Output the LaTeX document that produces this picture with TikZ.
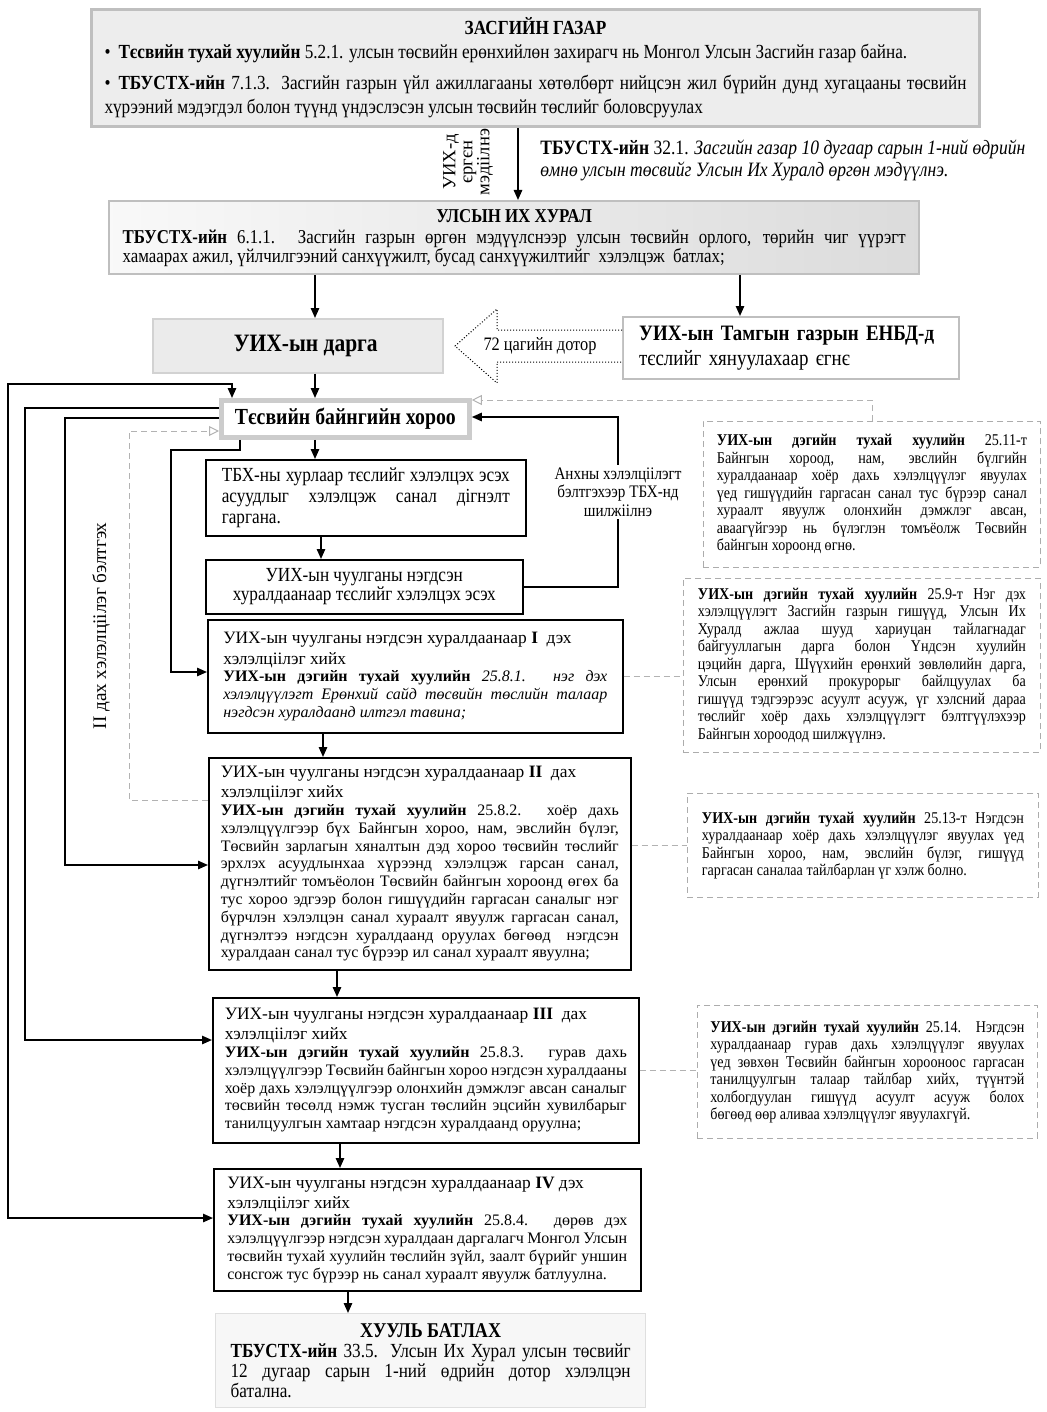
\documentclass[tikz,border=0pt]{standalone}
\usepackage{fontspec}
\setmainfont{Liberation Serif}
\newfontfamily\cond[FakeStretch=0.86]{Liberation Serif}
\usetikzlibrary{arrows.meta,shadings}

\newcommand{\bul}{\makebox[7pt][l]{\textbullet}}

\begin{document}
\begin{tikzpicture}[x=0.5pt, y=-0.5pt,
  box/.style ={draw, line width=0.8pt, anchor=north west, inner ysep=2pt, inner xsep=0pt},
  note/.style ={draw=gray!65, densely dashed, line width=0.4pt, anchor=north west,
    inner ysep=2pt, inner xsep=0pt, align=justify, font=\cond\fontsize{8.2}{8.75}\selectfont},
  arr/.style ={-{Triangle[length=5pt,width=4.2pt]}, line width=0.8pt},
  arrtwo/.style ={{Triangle[length=5pt,width=4.2pt]}-{Triangle[length=5pt,width=4.2pt]}, line width=0.8pt},
  gline/.style ={gray!60, densely dashed, line width=0.5pt},
  garr/.style ={gline, -{Triangle[open,length=5pt,width=5pt]}}]
\useasboundingbox (0,0) rectangle (1046,1412);

% upper part
\node[box, draw=gray!50, line width=1.5pt, fill=gray!14, minimum width=444pt, minimum height=58.5pt,
  text width=431pt, align=justify, font=\cond\fontsize{10}{12}\selectfont] (gov) at (90,8) {%
  \makebox[\linewidth]{\bfseries ЗАСГИЙН ГАЗАР}\par
  \hangindent=7pt\hangafter=1\bul\textbf{Тєсвийн тухай хуулийн} 5.2.1. улсын төсвийн ерөнхийлөн захирагч нь Монгол Улсын Засгийн газар байна.\par\vspace{3.5pt}
  \hangindent=7pt\hangafter=1\bul\textbf{ТБУСТХ-ийн} 7.1.3. Засгийн газрын үйл ажиллагааны хөтөлбөрт нийцсэн жил бүрийн дунд хугацааны төсвийн\linebreak хүрээний мэдэгдэл болон түүнд үндэслэсэн улсын төсвийн төслийг боловсруулах};
\node[rotate=90, align=center, inner sep=0pt, font=\fontsize{9.3}{8.5}\selectfont] (sub) at (468,162) {УИХ-д\\єргєн\\мэдіілнэ};
\node[anchor=north west, align=left, inner sep=0pt, font=\cond\fontsize{10.2}{11}\selectfont] (art) at (540,140)
  {\textbf{ТБУСТХ-ийн} 32.1. \textit{Засгийн газар 10 дугаар сарын 1-ний өдрийн}\\
   \textit{өмнө улсын төсвийг Улсын Их Хуралд өргөн мэдүүлнэ.}};
\node[box, draw=gray!50, line width=1.2pt, left color=gray!5, right color=gray!28, minimum width=405pt,
  minimum height=36.5pt, text width=391.5pt, align=justify, font=\cond\fontsize{9.8}{9.5}\selectfont] (parl) at (108,200) {%
  \makebox[\linewidth]{\bfseries УЛСЫН ИХ ХУРАЛ}\par\vspace{1pt}
  \textbf{ТБУСТХ-ийн} 6.1.1. Засгийн газрын өргөн мэдүүлснээр улсын төсвийн орлого, төрийн чиг үүрэгт\linebreak
  хамаарах ажил, үйлчилгээний санхүүжилт, бусад санхүүжилтийг\ \ хэлэлцэж\ \ батлах;};
\node[box, draw=gray!35, fill=gray!16, minimum width=145pt, minimum height=27pt,
  font=\cond\bfseries\fontsize{12.5}{14}\selectfont] (chair) at (152,318) {\hspace{8pt}УИХ-ын дарга};
\node[box, draw=gray!50, line width=1.2pt, fill=white, minimum width=168pt, minimum height=31pt,
  text width=152pt, align=left, font=\cond\fontsize{11}{12.5}\selectfont] (secr) at (622,316)
  {\textbf{УИХ-ын Тамгын газрын ЕНБД-д}\\тєслийг хянуулахаар єгнє};
% hollow arrow from the secretariat to the chairman
\coordinate (hold) at (455,346);
\draw[densely dotted, line width=0.5pt, fill=white] (secr.west |- 0,330) -- (497,330) -- (497,309) -- (hold)
  -- (497,383) -- (497,362) -- (secr.west |- 0,362);
\node[font=\cond\fontsize{9.5}{10}\selectfont] (hrs) at (540,346) {72 цагийн дотор};

% committee stage
\node[box, draw=gray!40, line width=2.4pt, fill=white, minimum width=124pt, minimum height=18.5pt,
  font=\cond\bfseries\fontsize{11.5}{13}\selectfont] (bcom) at (219,398) {Тєсвийн байнгийн хороо};
\node[box, minimum width=160pt, minimum height=38pt, text width=144pt, align=justify,
  font=\cond\fontsize{10}{10.5}\selectfont] (tbx) at (205,459)
  {ТБХ-ны хурлаар тєслийг хэлэлцэх эсэх\linebreak асуудлыг хэлэлцэж санал дігнэлт\linebreak гаргана.};
\node[box, minimum width=158.5pt, minimum height=27pt, align=center,
  font=\cond\fontsize{10}{9.5}\selectfont] (plen0) at (205,559)
  {УИХ-ын чуулганы нэгдсэн\\хуралдаанаар тєслийг хэлэлцэх эсэх};

% plenary sessions
\node[box, minimum width=207.5pt, minimum height=56.5pt, text width=192pt, align=justify,
  font=\fontsize{8}{8.9}\selectfont] (plen1) at (207,619) {%
  {\fontsize{8.7}{10.5}\selectfont УИХ-ын чуулганы нэгдсэн хуралдаанаар \textbf{I}\ \ дэх\\хэлэлціілэг хийх\par}
  \textbf{УИХ-ын дэгийн тухай хуулийн} \textit{25.8.1. нэг дэх\linebreak
  хэлэлцүүлэгт Ерөнхий сайд төсвийн төслийн талаар\linebreak
  нэгдсэн хуралдаанд илтгэл тавина;}};
\node[box, minimum width=211pt, minimum height=106pt, text width=199pt, align=justify,
  font=\fontsize{8}{8.9}\selectfont] (plen2) at (208,757) {%
  {\fontsize{8.7}{10}\selectfont УИХ-ын чуулганы нэгдсэн хуралдаанаар \textbf{II}\ \ дах\\хэлэлціілэг хийх\par}
  \textbf{УИХ-ын дэгийн тухай хуулийн} 25.8.2. хоёр дахь\linebreak
  хэлэлцүүлгээр бүх Байнгын хороо, нам, эвслийн бүлэг,\linebreak
  Төсвийн зарлагын хяналтын дэд хороо төсвийн төслийг\linebreak
  эрхлэх асуудлынхаа хүрээнд хэлэлцэж гарсан санал,\linebreak
  дүгнэлтийг томъёолон Төсвийн байнгын хороонд өгөх ба\linebreak
  тус хороо эдгээр болон гишүүдийн гаргасан саналыг нэг\linebreak
  бүрчлэн хэлэлцэн санал хураалт явуулж гаргасан санал,\linebreak
  дүгнэлтээ нэгдсэн хуралдаанд оруулах бөгөөд\ \ нэгдсэн\linebreak
  хуралдаан санал тус бүрээр ил санал хураалт явуулна;};
\node[box, minimum width=213pt, minimum height=72.5pt, text width=201pt, align=justify,
  font=\fontsize{8}{8.9}\selectfont] (plen3) at (212,997) {%
  {\fontsize{8.7}{10}\selectfont УИХ-ын чуулганы нэгдсэн хуралдаанаар \textbf{III}\ \ дах\\хэлэлціілэг хийх\par}
  \textbf{УИХ-ын дэгийн тухай хуулийн} 25.8.3. гурав дахь\linebreak
  хэлэлцүүлгээр Төсвийн байнгын хороо нэгдсэн хуралдааны\linebreak
  хоёр дахь хэлэлцүүлгээр олонхийн дэмжлэг авсан саналыг\linebreak
  төсвийн төсөлд нэмж тусган төслийн эцсийн хувилбарыг\linebreak
  танилцуулгын хамтаар нэгдсэн хуралдаанд оруулна;};
\node[box, minimum width=213.5pt, minimum height=61pt, text width=200pt, align=justify,
  font=\fontsize{8}{8.9}\selectfont] (plen4) at (213,1168) {%
  {\fontsize{8.7}{10}\selectfont УИХ-ын чуулганы нэгдсэн хуралдаанаар \textbf{IV} дэх\\хэлэлціілэг хийх\par}
  \textbf{УИХ-ын дэгийн тухай хуулийн} 25.8.4. дөрөв дэх\linebreak
  хэлэлцүүлгээр нэгдсэн хуралдаан даргалагч Монгол Улсын\linebreak
  төсвийн тухай хуулийн төслийн зүйл, заалт бүрийг уншин\linebreak
  сонсгож тус бүрээр нь санал хураалт явуулж батлуулна.};
\node[box, draw=gray!25, line width=0.6pt, fill=gray!6, minimum width=215pt, minimum height=47pt,
  text width=200pt, align=justify, font=\cond\fontsize{10}{10}\selectfont] (law) at (215,1313) {%
  \makebox[\linewidth]{\fontsize{10.5}{12}\selectfont\bfseries ХУУЛЬ БАТЛАХ}\par
  \textbf{ТБУСТХ-ийн} 33.5. Улсын Их Хурал улсын төсвийг\linebreak
  12 дугаар сарын 1-ний өдрийн дотор хэлэлцэн\linebreak батална.};

% notes
\node[note, minimum width=168.5pt, minimum height=73pt, text width=155pt] (note1) at (703,421) {%
  \textbf{УИХ-ын дэгийн тухай хуулийн} 25.11-т\linebreak
  Байнгын хороод, нам, эвслийн бүлгийн\linebreak
  хуралдаанаар хоёр дахь хэлэлцүүлэг явуулах\linebreak
  үед гишүүдийн гаргасан санал тус бүрээр санал\linebreak
  хураалт явуулж олонхийн дэмжлэг авсан,\linebreak
  аваагүйгээр нь бүлэглэн томъёолж Төсвийн\linebreak
  байнгын хороонд өгнө.};
\node[note, minimum width=178.5pt, minimum height=87pt, text width=164pt] (note2) at (683,578) {%
  \textbf{УИХ-ын дэгийн тухай хуулийн} 25.9-т Нэг дэх\linebreak
  хэлэлцүүлэгт Засгийн газрын гишүүд, Улсын Их\linebreak
  Хуралд ажлаа шууд хариуцан тайлагнадаг\linebreak
  байгууллагын дарга болон Үндсэн хуулийн\linebreak
  цэцийн дарга, Шүүхийн ерөнхий зөвлөлийн дарга,\linebreak
  Улсын ерөнхий прокурорыг байлцуулах ба\linebreak
  гишүүд тэдгээрээс асуулт асууж, үг хэлсний дараа\linebreak
  төслийг хоёр дахь хэлэлцүүлэгт бэлтгүүлэхээр\linebreak
  Байнгын хороодод шилжүүлнэ.};
\node[note, minimum width=175.5pt, minimum height=52pt, text width=161pt] (note3) at (687,793) {%
  \textbf{УИХ-ын дэгийн тухай хуулийн} 25.13-т Нэгдсэн\linebreak
  хуралдаанаар хоёр дахь хэлэлцүүлэг явуулах үед\linebreak
  Байнгын хороо, нам, эвслийн бүлэг, гишүүд\linebreak
  гаргасан саналаа тайлбарлан үг хэлж болно.};
\node[note, minimum width=170pt, minimum height=66.5pt, text width=157pt] (note4) at (697,1005) {%
  \textbf{УИХ-ын дэгийн тухай хуулийн} 25.14. Нэгдсэн\linebreak
  хуралдаанаар гурав дахь хэлэлцүүлэг явуулах\linebreak
  үед зөвхөн Төсвийн байнгын хорооноос гаргасан\linebreak
  танилцуулгын талаар тайлбар хийх, түүнтэй\linebreak
  холбогдуулан гишүүд асуулт асууж болох\linebreak
  бөгөөд өөр аливаа хэлэлцүүлэг явуулахгүй.};

% arrows down the middle
\coordinate (xa) at (518,0);
\coordinate (xb) at (315,0);
\coordinate (xc) at (740,0);
\coordinate (xd) at (321,0);
\coordinate (xe) at (323,0);
\coordinate (xf) at (337,0);
\coordinate (xg) at (340,0);
\coordinate (xh) at (348,0);
\draw[arr] (gov.south -| xa) -- (parl.north -| xa);
\draw[arr] (parl.south -| xb) -- (chair.north -| xb);
\draw[arr] (parl.south -| xc) -- (secr.north -| xc);
\draw[arr] (chair.south -| xb) -- (bcom.north -| xb);
\draw[arr] (bcom.south -| xb) -- (tbx.north -| xb);
\draw[arr] (tbx.south -| xd) -- (plen0.north -| xd);
\draw[arr] (plen1.south -| xe) -- (plen2.north -| xe);
\draw[arr] (plen2.south -| xf) -- (plen3.north -| xf);
\draw[arr] (plen3.south -| xg) -- (plen4.north -| xg);
\draw[arr] (plen4.south -| xh) -- (law.north -| xh);

% loops on the left
\coordinate (A1) at (232,384);
\coordinate (A2) at (8,384);
\coordinate (A3) at (8,1218);
\draw[arrtwo] (bcom.north -| A1) -- (A1) -- (A2) -- (A3) -- (A3 -| plen4.west);
\coordinate (B1) at (25,408);
\coordinate (B2) at (25,1040);
\draw[arr] (B1 -| bcom.west) -- (B1) -- (B2) -- (B2 -| plen3.west);
\coordinate (C1) at (65,418);
\coordinate (C2) at (65,865);
\draw[arr] (C1 -| bcom.west) -- (C1) -- (C2) -- (C2 -| plen2.west);
\coordinate (D1) at (240,450);
\coordinate (D2) at (171,450);
\coordinate (D3) at (171,672);
\draw[arr] (bcom.south -| D1) -- (D1) -- (D2) -- (D3) -- (D3 -| plen1.west);
\node[rotate=90, font=\fontsize{9.6}{10}\selectfont] (prep) at (101,626) {II дах хэлэлціілэг бэлтгэх};

% back to the committee
\coordinate (E2) at (618,417);
\draw[arr] (plen0.east) -| (E2) -- (E2 -| bcom.east);
\node[fill=white, align=center, inner sep=1pt, font=\cond\fontsize{8.8}{9.3}\selectfont] (back) at (618,492)
  {Анхны хэлэлціілэгт\\бэлтгэхээр ТБХ-нд\\шилжіілнэ};

% dashed links to the notes
\coordinate (G1) at (872,400);
\draw[garr] (note1.north -| G1) -- (G1) -- (G1 -| bcom.east);
\coordinate (G2) at (129,800);
\coordinate (G3) at (129,431);
\draw[garr] (G2 -| plen2.west) -- (G2) -- (G3) -- (G3 -| bcom.west);
\draw[gline] (plen1.east) -- (plen1.east -| note2.west);
\draw[gline] (note3.west -| plen2.east) -- (note3.west);
\draw[gline] (plen3.east) -- (plen3.east -| note4.west);
\end{tikzpicture}
\end{document}
